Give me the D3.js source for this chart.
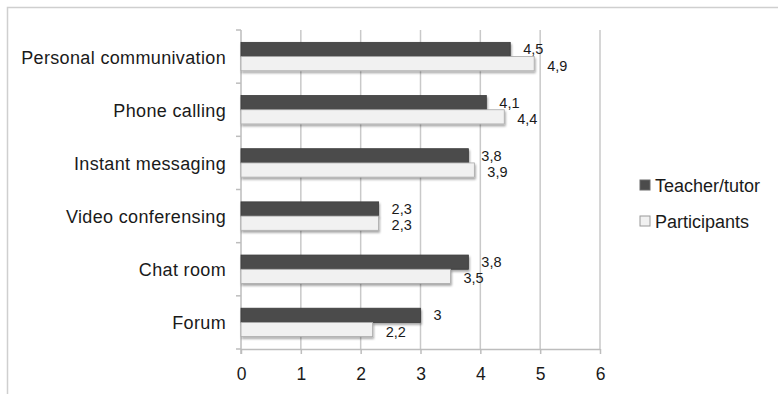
<!DOCTYPE html>
<html>
<head>
<meta charset="utf-8">
<script src="https://cdn.jsdelivr.net/npm/d3@7"></script>
<style>
  html, body { margin: 0; padding: 0; background: #fff; }
  svg { display: block; font-family: "Liberation Sans", Arial, Helvetica, sans-serif; }
</style>
</head>
<body>
<svg id="chart" width="778" height="394"></svg>
<script>
// Categories (top to bottom) and the two series
const categories = ["Personal communivation", "Phone calling", "Instant messaging",
                    "Video conferensing", "Chat room", "Forum"];
const seriesNames = ["Teacher/tutor", "Participants"];
const teacherValues = [4.5, 4.1, 3.8, 2.3, 3.8, 3];
const participantValues = [4.9, 4.4, 3.9, 2.3, 3.5, 2.2];
const xTicks = [0, 1, 2, 3, 4, 5, 6];

const seriesValues = [teacherValues, participantValues];
const fills = ["#4b4b4b", "#f1f1f1"];
const strokes = ["#3a3a3a", "#a8a8a8"];

const svg = d3.select("#chart");

// Shadow used under every bar
const defs = svg.append("defs");
const f = defs.append("filter").attr("id", "barShadow")
  .attr("x", "-5%").attr("y", "-30%").attr("width", "115%").attr("height", "180%");
f.append("feDropShadow").attr("dx", 1).attr("dy", 2).attr("stdDeviation", 1.2)
  .attr("flood-color", "#000").attr("flood-opacity", 0.35);

// Outer frame (left and top edges visible)
svg.append("path")
  .attr("d", "M7.5,394 L7.5,7.5 L778,7.5")
  .attr("fill", "none").attr("stroke", "#cfcfcf").attr("stroke-width", 1.5);

const plotTop = 30, plotBottom = 349, plotLeft = 241, plotRight = 600;

const x = d3.scaleLinear().domain([0, 6]).range([plotLeft, plotRight]);
const y0 = d3.scaleBand().domain(categories).range([plotTop, plotBottom]).padding(0);
const y1 = d3.scaleBand().domain(seriesNames).range([0, y0.bandwidth()])
  .paddingInner(0).paddingOuter(0.87);

// Vertical grid lines
svg.append("g").selectAll("line")
  .data(xTicks.filter(d => d > 0))
  .join("line")
  .attr("x1", d => x(d)).attr("x2", d => x(d))
  .attr("y1", plotTop).attr("y2", plotBottom)
  .attr("stroke", "#c9c9c9").attr("stroke-width", 1.5);

// Bottom axis
const xAxis = svg.append("g")
  .attr("transform", `translate(0,${plotBottom})`)
  .call(d3.axisBottom(x).tickValues(xTicks).tickSize(5).tickPadding(14)
        .tickFormat(d3.format("d")));
xAxis.select(".domain").attr("stroke", "#bdbdbd").attr("stroke-width", 1.5)
  .attr("d", `M${plotLeft},0.5H${plotRight}`);
xAxis.selectAll(".tick line").attr("stroke", "#bdbdbd").attr("stroke-width", 1.5);
xAxis.selectAll(".tick text").attr("fill", "#1a1a1a").style("font-size", "17.5px")
  .style("font-family", "'Liberation Sans', Arial, sans-serif");

// Left axis with ticks at category boundaries
const boundaries = d3.range(categories.length + 1).map(i => plotTop + i * y0.step());
const yAxis = svg.append("g");
yAxis.append("line")
  .attr("x1", plotLeft).attr("x2", plotLeft)
  .attr("y1", plotTop).attr("y2", plotBottom + 5)
  .attr("stroke", "#bdbdbd").attr("stroke-width", 1.5);
yAxis.selectAll("line.tk").data(boundaries).join("line").attr("class", "tk")
  .attr("x1", plotLeft - 5).attr("x2", plotLeft)
  .attr("y1", d => d).attr("y2", d => d)
  .attr("stroke", "#bdbdbd").attr("stroke-width", 1.5);

// Category labels
svg.append("g").selectAll("text")
  .data(categories)
  .join("text")
  .attr("x", 226)
  .attr("y", d => y0(d) + y0.bandwidth() / 2 + 1)
  .attr("text-anchor", "end")
  .attr("dominant-baseline", "central")
  .attr("fill", "#1a1a1a")
  .style("font-size", "18px")
  .style("letter-spacing", "0.35px")
  .text(d => d);

// Bars
const rows = categories.map((c, i) => ({
  cat: c,
  vals: seriesNames.map((s, j) => ({ s, j, v: seriesValues[j][i] }))
}));

const groups = svg.append("g").selectAll("g")
  .data(rows).join("g")
  .attr("transform", d => `translate(0,${y0(d.cat)})`);

groups.selectAll("rect")
  .data(d => d.vals)
  .join("rect")
  .attr("x", x(0))
  .attr("y", d => y1(d.s))
  .attr("width", d => x(d.v) - x(0))
  .attr("height", y1.bandwidth())
  .attr("fill", d => fills[d.j])
  .attr("stroke", d => strokes[d.j])
  .attr("stroke-width", 0.8)
  .attr("filter", "url(#barShadow)");

// Value labels (decimal comma)
const fmt = v => String(v).replace(".", ",");
groups.selectAll("text")
  .data(d => d.vals)
  .join("text")
  .attr("x", d => x(d.v) + 13)
  .attr("y", d => y1(d.s) + y1.bandwidth() / 2 + (d.j === 0 ? 0 : 2))
  .attr("dominant-baseline", "central")
  .attr("fill", "#1a1a1a")
  .style("font-size", "14.5px")
  .text(d => fmt(d.v));

// Legend
const legend = svg.append("g").selectAll("g")
  .data(seriesNames).join("g")
  .attr("transform", (d, i) => `translate(640,${185 + i * 36})`);
legend.append("rect")
  .attr("x", 0).attr("y", -5).attr("width", 10).attr("height", 10)
  .attr("fill", (d, i) => fills[i])
  .attr("stroke", (d, i) => i === 0 ? "#6a6a6a" : "#9a9a9a")
  .attr("stroke-width", 1);
legend.append("text")
  .attr("x", 15).attr("y", 1)
  .attr("dominant-baseline", "central")
  .attr("fill", "#1a1a1a")
  .style("font-size", "18px")
  .text(d => d);
</script>
</body>
</html>
